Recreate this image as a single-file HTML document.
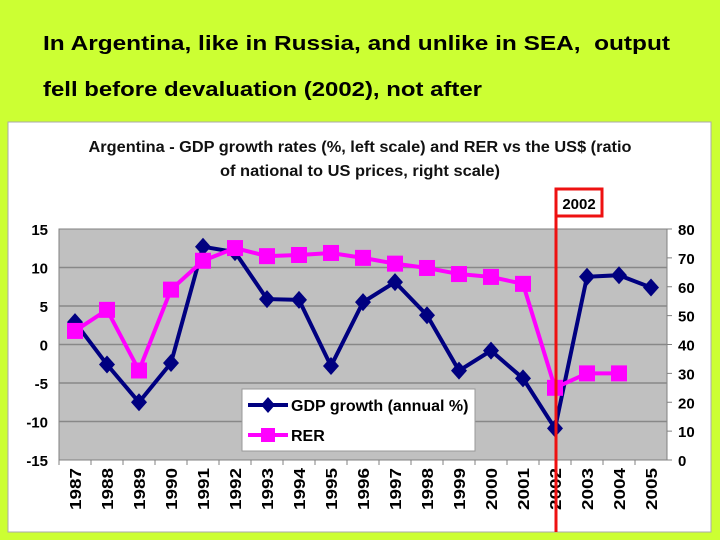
<!DOCTYPE html>
<html><head><meta charset="utf-8"><style>
body{margin:0;width:720px;height:540px;background:#ccff33;overflow:hidden;font-family:"Liberation Sans",sans-serif}
svg{position:absolute;left:0;top:0}
</style></head><body>
<svg width="720" height="540">
<text x="43" y="50" font-size="20" font-weight="bold" textLength="627" lengthAdjust="spacingAndGlyphs" xml:space="preserve">In Argentina, like in Russia, and unlike in SEA,  output</text>
<text x="43" y="96" font-size="20" font-weight="bold" textLength="439" lengthAdjust="spacingAndGlyphs">fell before devaluation (2002), not after</text>
<rect x="8" y="122" width="703" height="410" fill="#fff" stroke="#aaa"/>
<text x="360" y="152" font-size="16" font-weight="bold" text-anchor="middle" textLength="543" lengthAdjust="spacingAndGlyphs" fill="#111">Argentina - GDP growth rates (%, left scale) and RER vs the US$ (ratio</text>
<text x="360" y="176" font-size="16" font-weight="bold" text-anchor="middle" textLength="280" lengthAdjust="spacingAndGlyphs" fill="#111">of national to US prices, right scale)</text>
<g id="chart"></g>
</svg>
<script>
const years=[1987,1988,1989,1990,1991,1992,1993,1994,1995,1996,1997,1998,1999,2000,2001,2002,2003,2004,2005];
const gdp=[2.9,-2.6,-7.5,-2.4,12.7,12.0,5.9,5.8,-2.8,5.5,8.1,3.8,-3.4,-0.8,-4.4,-10.9,8.8,9.0,7.4];
const rer=[44.7,52,31,59,69,73.4,70.6,71,71.7,70,68,66.5,64.4,63.4,61,25,30,30];
const leftTicks=[15,10,5,0,-5,-10,-15];
const rightTicks=[80,70,60,50,40,30,20,10,0];
const NS='http://www.w3.org/2000/svg';
const g=document.getElementById('chart');
const L=59,R=667,T=229,B=460;
const xs=i=>75+i*32;
const yL=v=>T+(15-v)/30*(B-T);
const yR=v=>T+(80-v)/80*(B-T);
function mk(t,a,txt){const e=document.createElementNS(NS,t);for(const k in a)e.setAttribute(k,a[k]);if(txt!=null)e.textContent=txt;g.appendChild(e);return e;}
let e=mk('rect',{x:L,y:T,width:R-L,height:B-T,fill:'#c0c0c0',stroke:'#808080'});


leftTicks.forEach(v=>{
 if(v!==15&&v!==-15){const l=mk('line',{x1:L,x2:R,y1:yL(v),y2:yL(v),stroke:'#888','stroke-width':1.5});
 
 }
 const t=mk('text',{x:48,y:yL(v)+6,'font-size':15,'font-weight':'bold','text-anchor':'end'},v);
 
 
});
rightTicks.forEach(v=>{
 mk('line',{x1:R,x2:R+5,y1:yR(v),y2:yR(v),stroke:'#808080'});
 const t=mk('text',{x:678,y:yR(v)+6,'font-size':15,'font-weight':'bold'},v);
 
 
});
years.forEach((y,i)=>{
 mk('line',{x1:xs(i)-16,x2:xs(i)-16,y1:B,y2:B+5,stroke:'#808080'});
 const t=mk('text',{x:0,y:0,'font-size':16,'font-weight':'bold','text-anchor':'end',textLength:42,lengthAdjust:'spacingAndGlyphs',transform:`translate(${xs(i)+6},468) rotate(-90)`},y);
 
 
});
let p=mk('polyline',{points:gdp.map((v,i)=>xs(i)+','+yL(v)).join(' '),fill:'none',stroke:'#000080','stroke-width':4});


gdp.forEach((v,i)=>{const d=mk('polygon',{points:`${xs(i)},${yL(v)-9} ${xs(i)+8},${yL(v)} ${xs(i)},${yL(v)+9} ${xs(i)-8},${yL(v)}`,fill:'#000080'});
 
 });
p=mk('polyline',{points:rer.map((v,i)=>xs(i)+','+yR(v)).join(' '),fill:'none',stroke:'#ff00ff','stroke-width':4});


rer.forEach((v,i)=>{const d=mk('rect',{x:xs(i)-8,y:yR(v)-8,width:16,height:16,fill:'#ff00ff'});
 
 });
e=mk('rect',{x:242,y:389,width:233,height:62,fill:'#fff',stroke:'#999'});


mk('line',{x1:248,x2:288,y1:405,y2:405,stroke:'#000080','stroke-width':4});
mk('polygon',{points:'268,397 275,405 268,413 261,405',fill:'#000080'});
e=mk('text',{x:291,y:411,'font-size':16,'font-weight':'bold'},'GDP growth (annual %)');


mk('line',{x1:248,x2:288,y1:435,y2:435,stroke:'#ff00ff','stroke-width':4});
mk('rect',{x:261,y:428,width:14,height:14,fill:'#ff00ff'});
e=mk('text',{x:291,y:441,'font-size':16,'font-weight':'bold'},'RER');


const xi=years.indexOf(2002);
e=mk('line',{x1:xs(xi)+1,x2:xs(xi)+1,y1:188,y2:532,stroke:'#ee1111','stroke-width':3});


e=mk('rect',{x:xs(xi)+1,y:189,width:46,height:27,fill:'#fff',stroke:'#ee1111','stroke-width':3});


e=mk('text',{x:xs(xi)+24,y:209,'font-size':15,'font-weight':'bold','text-anchor':'middle'},'2002');


</script>
</body></html>
